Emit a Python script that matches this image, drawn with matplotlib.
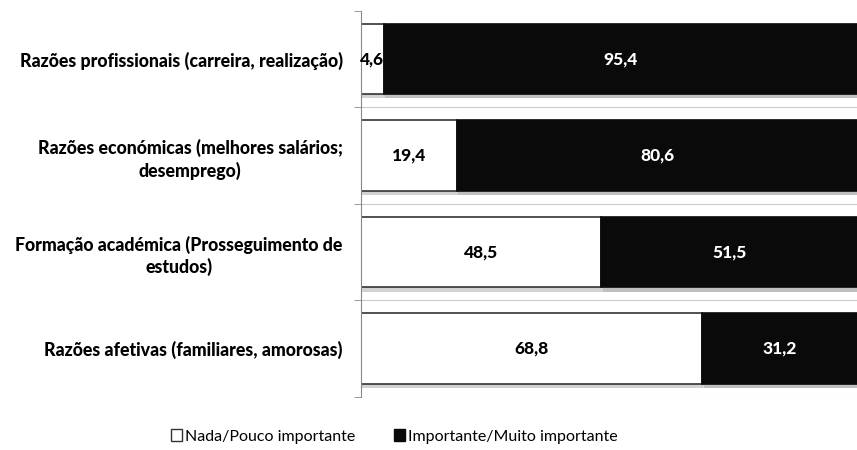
import numpy as np
import matplotlib.pyplot as plt
import matplotlib.patheffects as pe
from matplotlib.patches import Patch

# data
categories = ['Razões profissionais (carreira, realização)',
              'Razões económicas (melhores salários;\ndesemprego)',
              'Formação académica (Prosseguimento de\nestudos)',
              'Razões afetivas (familiares, amorosas)']
pouco = [4.6, 19.4, 48.5, 68.8]
importante = [95.4, 80.6, 51.5, 31.2]
series_names = ['Nada/Pouco importante', 'Importante/Muito importante']

plt.rcParams['font.family'] = ['Lato', 'DejaVu Sans']

fig = plt.figure(figsize=(8.57, 4.5), dpi=100)
ax = fig.add_axes([0.421, 0.118, 0.579, 0.858])

y = np.arange(len(categories))
h = 0.73
shadow = [pe.SimplePatchShadow(offset=(1, -3), alpha=0.25), pe.Normal()]
b1 = ax.barh(y, pouco, height=h, color='white', edgecolor='#333333', linewidth=1.2)
b2 = ax.barh(y, importante, left=pouco, height=h, color='#0a0a0a', edgecolor='#0a0a0a', linewidth=1.2)
for bar in list(b1) + list(b2):
    bar.set_path_effects(shadow)

for i in range(len(categories)):
    ax.text(pouco[i] / 2, y[i], f'{pouco[i]:.1f}'.replace('.', ','), ha='center', va='center',
            fontsize=12.5, fontweight=900, color='black')
    ax.text(pouco[i] + importante[i] / 2, y[i], f'{importante[i]:.1f}'.replace('.', ','),
            ha='center', va='center', fontsize=12.5, fontweight=900, color='white')

# separators between categories (no line at the very top)
for b in y + 0.5:
    ax.axhline(b, color='#cccccc', linewidth=0.8, zorder=0)

ax.set_xlim(0, 100)
ax.set_ylim(len(categories) - 0.5, -0.5)
ax.set_yticks(y)
ax.set_yticklabels(categories, fontsize=12.8, fontweight=900,
                   multialignment='center', linespacing=1.3)
ax.tick_params(axis='y', length=0, pad=13)
ax.set_yticks(np.arange(len(categories) + 1) - 0.5, minor=True)
ax.tick_params(axis='y', which='minor', length=5, color='#888888')
ax.set_xticks([])
for s in ['top', 'right', 'bottom']:
    ax.spines[s].set_visible(False)
ax.spines['left'].set_color('#888888')

handles = [Patch(facecolor='white', edgecolor='#333333', label=series_names[0]),
           Patch(facecolor='#0a0a0a', edgecolor='#0a0a0a', label=series_names[1])]
fig.legend(handles=handles, loc='center', bbox_to_anchor=(0.46, 0.03), ncol=2, frameon=False,
           fontsize=11.5, handlelength=0.7, handleheight=0.7, handletextpad=0.2, columnspacing=2.4)

fig.savefig('out.png', dpi=100, facecolor='white')
